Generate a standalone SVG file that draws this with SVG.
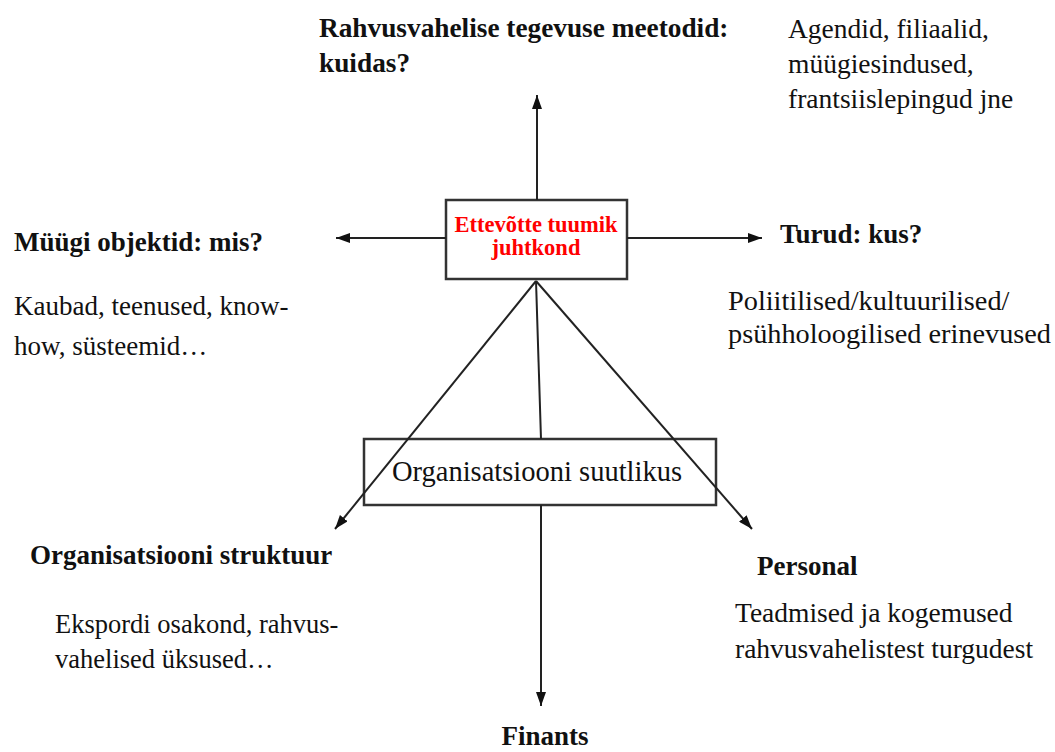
<svg xmlns="http://www.w3.org/2000/svg" width="1055" height="752" viewBox="0 0 1055 752">
<style>
.t{font-family:"Liberation Serif","DejaVu Serif",serif;font-size:27.5px;font-weight:normal;font-style:normal;fill:#111}
.b{font-family:"Liberation Serif","DejaVu Serif",serif;font-size:27px;font-weight:bold;fill:#111}
.r{font-family:"Liberation Serif","DejaVu Serif",serif;font-size:22.5px;font-weight:bold;fill:#ff0000;text-anchor:middle}
.box{fill:#fff;stroke:#333;stroke-width:2.5}
.box2{fill:none;stroke:#333;stroke-width:2.5}
.ln{stroke:#222;stroke-width:2;fill:none}
</style>
<defs>
<marker id="ah" viewBox="0 0 14 10" refX="14" refY="5" markerWidth="14" markerHeight="10" markerUnits="userSpaceOnUse" orient="auto">
<path d="M0,0 L14,5 L0,10 Z" fill="#111"/>
</marker>
</defs>
<rect width="1055" height="752" fill="#fff"/>
<g id="core">
<rect class="box" x="446" y="200" width="181" height="79"/>
<text class="r" x="536" y="232">Ettevõtte tuumik</text>
<text class="r" x="536" y="255">juhtkond</text>
</g>
<g id="capability">
<rect class="box2" x="364" y="439" width="352" height="66"/>
<text class="t" x="537" y="481" text-anchor="middle" style="font-size:28.5px">Organisatsiooni suutlikus</text>
</g>
<g id="connectors">
<line class="ln" x1="537" y1="200" x2="537" y2="95" marker-end="url(#ah)"/>
<line class="ln" x1="446" y1="238" x2="336" y2="238" marker-end="url(#ah)"/>
<line class="ln" x1="627" y1="238" x2="762" y2="238" marker-end="url(#ah)"/>
<line class="ln" x1="536" y1="281" x2="541" y2="439"/>
<line class="ln" x1="536" y1="281" x2="335" y2="529" marker-end="url(#ah)"/>
<line class="ln" x1="536" y1="281" x2="752" y2="529" marker-end="url(#ah)"/>
<line class="ln" x1="541" y1="505" x2="541" y2="706" marker-end="url(#ah)"/>
</g>
<g id="methods">
<text class="b" x="319" y="37" style="font-size:27.3px">Rahvusvahelise tegevuse meetodid:</text>
<text class="b" x="319" y="72" style="font-size:27.3px">kuidas?</text>
</g>
<g id="methods-detail">
<text class="t" x="788" y="38">Agendid, filiaalid,</text>
<text class="t" x="788" y="73">müügiesindused,</text>
<text class="t" x="788" y="108">frantsiislepingud jne</text>
</g>
<g id="objects">
<text class="b" x="14" y="251">Müügi objektid: mis?</text>
<text class="t" x="14" y="315" style="font-size:27px">Kaubad, teenused, know-</text>
<text class="t" x="14" y="355" style="font-size:27px">how, süsteemid…</text>
</g>
<g id="markets">
<text class="b" x="780" y="243">Turud: kus?</text>
<text class="t" x="728" y="310" style="font-size:28.3px">Poliitilised/kultuurilised/</text>
<text class="t" x="728" y="343" style="font-size:28.3px">psühholoogilised erinevused</text>
</g>
<g id="structure">
<text class="b" x="30" y="564">Organisatsiooni struktuur</text>
<text class="t" x="55" y="633" style="font-size:26.5px">Ekspordi osakond, rahvus-</text>
<text class="t" x="55" y="668" style="font-size:26.5px">vahelised üksused…</text>
</g>
<g id="personnel">
<text class="b" x="757" y="575">Personal</text>
<text class="t" x="735" y="622">Teadmised ja kogemused</text>
<text class="t" x="735" y="658">rahvusvahelistest turgudest</text>
</g>
<g id="finance">
<text class="b" x="545" y="745" text-anchor="middle">Finants</text>
</g>
</svg>
